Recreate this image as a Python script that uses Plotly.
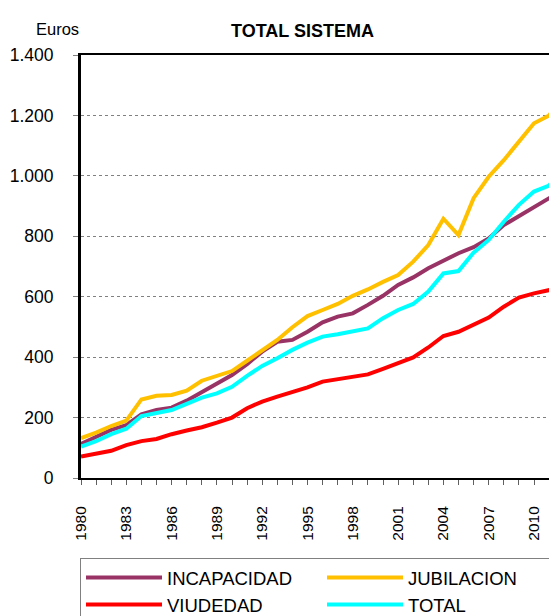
import plotly.graph_objects as go

# Years shown on the category axis
years = list(range(1980, 2013))

# Average pension values (Euros)
incapacidad = [113, 135, 159, 175, 211, 225, 233, 256, 284, 311, 341, 377, 418, 451, 457,
               484, 515, 534, 545, 573, 603, 639, 664, 694, 720, 744, 764, 793, 837, 867,
               898, 926, 948]
jubilacion = [132, 150, 172, 190, 260, 272, 275, 289, 322, 338, 354, 388, 424, 457, 499,
              536, 556, 576, 603, 624, 649, 672, 716, 771, 858, 804, 926, 997, 1052, 1113,
              1174, 1200, 1265]
viudedad = [71, 82, 90, 109, 122, 129, 145, 157, 168, 183, 200, 231, 253, 269, 284,
            300, 319, 327, 335, 343, 361, 380, 399, 432, 470, 484, 506, 531, 567, 597,
            611, 622, 633]
total = [104, 122, 145, 163, 205, 216, 225, 245, 266, 280, 302, 338, 371, 396, 424,
         448, 468, 476, 484, 495, 529, 556, 576, 617, 677, 685, 746, 788, 848, 904,
         948, 968, 1030]

series = {
    'INCAPACIDAD': (incapacidad, '#993366'),
    'JUBILACION': (jubilacion, '#FFC000'),
    'VIUDEDAD': (viudedad, '#FF0000'),
    'TOTAL': (total, '#00FFFF'),
}

font_family = "Arial, Liberation Sans, sans-serif"

# the page body adds an 8px offset, so the plot area runs a bit past the right edge
plot_w = 557 - 73
plot_h = 616 - 47 - 146

fig = go.Figure()
for name, (vals, color) in series.items():
    fig.add_trace(go.Scatter(
        x=years, y=vals, name=name, mode='lines',
        line=dict(color=color, width=4),
    ))

fig.update_layout(
    width=557, height=616,
    margin=dict(l=73, r=0, t=47, b=146, autoexpand=False),
    plot_bgcolor='white',
    paper_bgcolor='white',
    separators=',.',
    font=dict(family=font_family, color='black', size=16),
    showlegend=True,
    legend=dict(
        orientation='h',
        xref='container', yref='container',
        x=72 / 557, xanchor='left',
        y=1 - 550 / 616, yanchor='top',
        bordercolor='#808080', borderwidth=1,
        bgcolor='white',
        font=dict(size=18.5),
        entrywidthmode='pixels', entrywidth=150,
        itemwidth=76,
        tracegroupgap=0,
    ),
)

fig.update_xaxes(
    range=[1980, 1980 + plot_w / 15.1],
    tick0=1980, dtick=3,
    ticks='outside', ticklen=5, tickcolor='#606060',
    minor=dict(dtick=1, ticks='outside', ticklen=5, tickcolor='#606060'),
    tickangle=-90,
    tickfont=dict(size=15.5),
    ticklabelstandoff=15,
    showgrid=False,
    showline=True, linecolor='black', linewidth=2, mirror=True,
    zeroline=False,
)

fig.update_yaxes(
    range=[0, 1400],
    dtick=200,
    tickformat=',d',
    ticks='outside', ticklen=5, tickcolor='#808080',
    tickfont=dict(size=17.5),
    ticklabelstandoff=16,
    showgrid=True, gridcolor='#808080', gridwidth=1, griddash='dot',
    showline=True, linecolor='black', linewidth=3,
    zeroline=False,
)

fig.add_annotation(
    text='<b>TOTAL SISTEMA</b>', x=(302 - 81) / plot_w, y=(478 - 19) / plot_h,
    xref='paper', yref='paper', xanchor='center', showarrow=False,
    font=dict(size=18),
)
fig.add_annotation(
    text='Euros', x=(57 - 81) / plot_w, y=(478 - 18) / plot_h,
    xref='paper', yref='paper', xanchor='center', showarrow=False,
    font=dict(size=16.5),
)

fig.write_html("out.html")
